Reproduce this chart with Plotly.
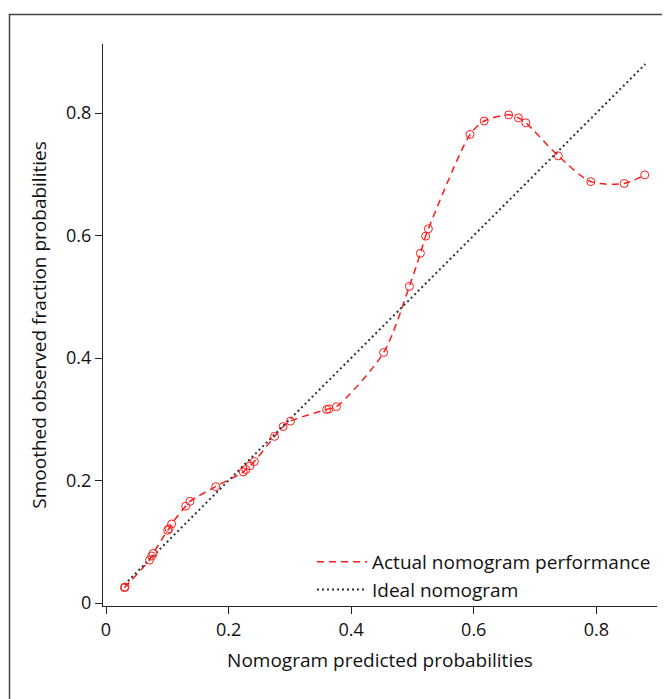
import plotly.graph_objects as go

# Calibration points (nomogram predicted vs smoothed observed)
pred = [0.030, 0.031, 0.071, 0.0745, 0.077, 0.1006, 0.1028, 0.107, 0.130, 0.137,
        0.179, 0.224, 0.228, 0.235, 0.242, 0.275, 0.289, 0.301, 0.360, 0.364,
        0.376, 0.453, 0.495, 0.513, 0.5215, 0.526, 0.594, 0.617, 0.657, 0.673,
        0.685, 0.738, 0.791, 0.8455, 0.879]
obs = [0.025, 0.026, 0.070, 0.0767, 0.081, 0.1187, 0.1213, 0.129, 0.158, 0.166,
       0.190, 0.214, 0.218, 0.224, 0.231, 0.272, 0.288, 0.297, 0.316, 0.317,
       0.3205, 0.409, 0.517, 0.571, 0.599, 0.611, 0.765, 0.787, 0.797, 0.792,
       0.784, 0.730, 0.688, 0.685, 0.699]

ideal_x = [0.03, 0.88]
ideal_y = [0.03, 0.88]

tick_vals = [0, 0.2, 0.4, 0.6, 0.8]
tick_text = ["0", "0.2", "0.4", "0.6", "0.8"]

FONT = "Open Sans"
TXT = "#111111"

fig = go.Figure()
fig.add_trace(go.Scatter(
    x=pred, y=obs, mode="lines", name="Actual nomogram performance",
    line=dict(color="#ff1a1a", width=1.5, dash="7px,5px", shape="spline", smoothing=0.8),
))
fig.add_trace(go.Scatter(
    x=ideal_x, y=ideal_y, mode="lines", name="Ideal nomogram",
    line=dict(color="#333333", width=2, dash="2px,3px"),
))
fig.add_trace(go.Scatter(
    x=pred, y=obs, mode="markers", showlegend=False,
    marker=dict(symbol="circle-open", size=8, color="#ff1a1a", line=dict(width=1)),
))

# page body has an 8px margin; compensate so the plot sits where the reference has it
OFF = 8
WIN_W, WIN_H = 670, 699
W, H = WIN_W - OFF, WIN_H - OFF
PL, PR, PT, PB = 103, 657, 44, 606  # plot area in window pixels
ml, mr, mt, mb = PL - OFF, WIN_W - PR, PT - OFF, WIN_H - PB
pw, ph = PR - PL, PB - PT

def px2paper_x(px):
    return (px - PL) / pw

def px2paper_y(py):
    return (PB - py) / ph

fig.update_layout(
    width=W, height=H,
    margin=dict(l=ml, r=mr, t=mt, b=mb, autoexpand=False),
    paper_bgcolor="white", plot_bgcolor="white",
    font=dict(family=FONT, size=19, color=TXT),
    showlegend=True,
    legend=dict(
        x=px2paper_x(312), y=px2paper_y(543), xanchor="left", yanchor="top",
        bgcolor="rgba(0,0,0,0)", font=dict(size=19, family=FONT, color=TXT),
        itemwidth=50, tracegroupgap=0,
    ),
    xaxis=dict(
        range=[-0.0049, 0.899], showgrid=False, zeroline=False, automargin=False,
        showline=True, linecolor="#222222", linewidth=1,
        ticks="outside", ticklen=7, tickcolor="#222222",
        tickvals=tick_vals, ticktext=tick_text,
        tickfont=dict(size=18, family=FONT, color=TXT),
        title=dict(text="Nomogram predicted probabilities", font=dict(size=19, family=FONT, color=TXT), standoff=14),
    ),
    yaxis=dict(
        range=[-0.0049, 0.9127], showgrid=False, zeroline=False, automargin=False,
        showline=True, linecolor="#222222", linewidth=1,
        ticks="outside", ticklen=7, tickcolor="#222222",
        tickvals=tick_vals, ticktext=tick_text,
        tickfont=dict(size=18, family=FONT, color=TXT),
        title=dict(text="Smoothed observed fraction probabilities", font=dict(size=19, family=FONT, color=TXT), standoff=14),
    ),
    shapes=[dict(
        type="rect", xref="paper", yref="paper",
        x0=px2paper_x(9.5), x1=px2paper_x(673),
        y0=px2paper_y(703), y1=px2paper_y(14.5),
        line=dict(color="#444444", width=1.5), fillcolor="rgba(0,0,0,0)", layer="below",
    )],
)

fig.write_html("out.html")
